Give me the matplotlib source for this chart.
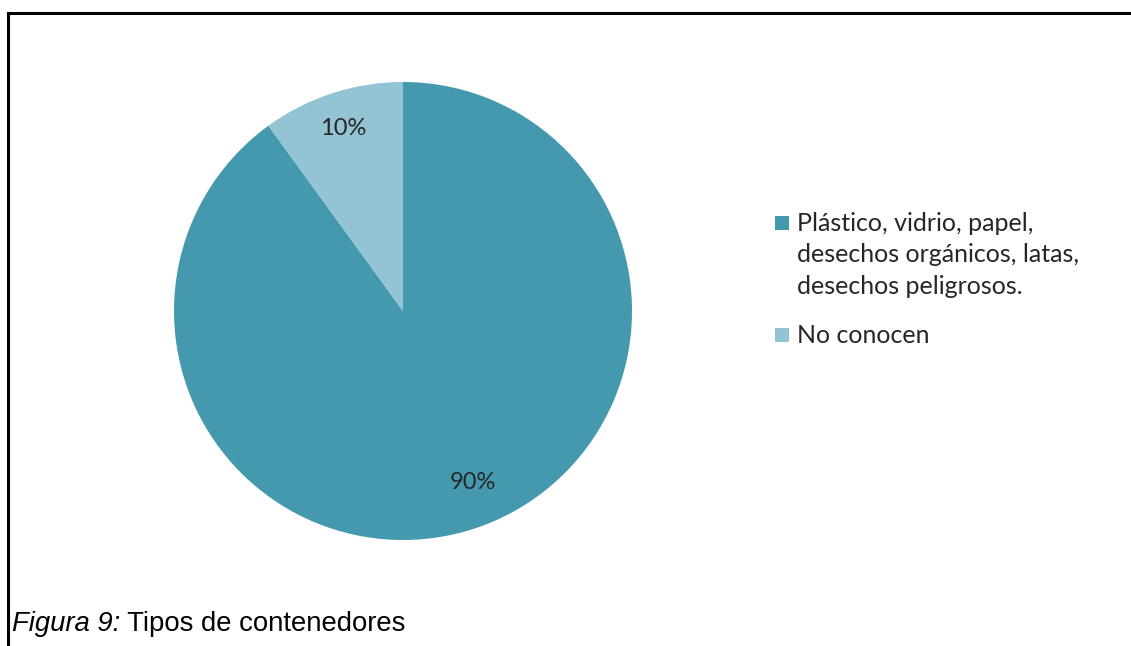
import matplotlib
matplotlib.use("Agg")
import matplotlib.pyplot as plt
from matplotlib.lines import Line2D
from matplotlib.patches import Rectangle

# ── Data ────────────────────────────────────────────────────────────────
categories = [
    "Plástico, vidrio, papel,\ndesechos orgánicos, latas,\ndesechos peligrosos.",
    "No conocen",
]
shares = [90, 10]
colors = ["#4499AF", "#93C4D4"]
caption_num = "Figura 9:"
caption_text = " Tipos de contenedores"

W, H = 1131, 646
TXT = "#262626"
fig = plt.figure(figsize=(W / 100, H / 100), dpi=100)
fig.patch.set_facecolor("white")

# ── Pie ─────────────────────────────────────────────────────────────────
cx, cy, r = 403, 311, 229
ax = fig.add_axes([(cx - r) / W, (H - cy - r) / H, 2 * r / W, 2 * r / H])
wedges, _, autotexts = ax.pie(
    shares, colors=colors, startangle=90, counterclock=False,
    autopct="%1.0f%%", pctdistance=0.83,
    textprops=dict(fontsize=17, color=TXT, family="Lato"),
)
# nudge the percentage labels to sit like the office-style layout
autotexts[0].set_position((0.305, -0.75))
autotexts[1].set_position((-0.262, 0.795))
ax.set_xlim(-1, 1)
ax.set_ylim(-1, 1)
ax.set_aspect("auto")
ax.axis("off")

# ── Legend (keys aligned with first text line) ──────────────────────────
leg_x, key_size, line_step = 775, 14, 31.5
first_baselines = [231, 343]
for label, color, base in zip(categories, colors, first_baselines):
    fig.add_artist(Rectangle((leg_x / W, 1 - (base - 1) / H),
                             key_size / W, key_size / H,
                             transform=fig.transFigure, color=color, lw=0))
    for i, line in enumerate(label.split("\n")):
        fig.text(797 / W, 1 - (base + i * line_step) / H, line, fontsize=18,
                 family="Lato", color=TXT, va="baseline")

# ── Frame lines and caption ─────────────────────────────────────────────
fig.add_artist(Line2D([8 / W, 1], [1 - 13 / H] * 2, color="black", lw=2.2))
fig.add_artist(Line2D([8 / W] * 2, [0, 1 - 13 / H], color="black", lw=2.2))

t = fig.text(12 / W, 1 - 631 / H, caption_num, fontsize=19.8, style="italic",
             family="Liberation Sans", color="black")
fig.canvas.draw()
bb = t.get_window_extent()
fig.text(bb.x1 / W, 1 - 631 / H, caption_text, fontsize=19.8,
         family="Liberation Sans", color="black")

fig.savefig("out.png", dpi=100)
